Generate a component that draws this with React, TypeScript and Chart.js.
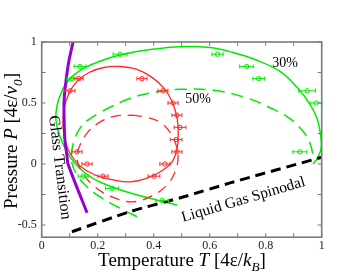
import React, { useEffect, useRef } from 'react';
import { Chart, registerables } from 'chart.js';
Chart.register(...registerables);

// ---- data ----
const fit30T = [0.483, 0.397, 0.305, 0.208, 0.155, 0.115, 0.087, 0.065, 0.051, 0.055, 0.069, 0.090, 0.137, 0.205, 0.287, 0.387, 0.494, 0.601, 0.683, 0.762, 0.851, 0.915, 0.958, 0.983, 0.996, 0.998, 0.987, 0.969];
const fit30P = [-0.336, -0.287, -0.230, -0.148, -0.074, 0.016, 0.114, 0.228, 0.359, 0.481, 0.579, 0.669, 0.767, 0.840, 0.897, 0.938, 0.962, 0.954, 0.914, 0.856, 0.759, 0.620, 0.489, 0.375, 0.237, 0.131, 0.057, 0.0];

const theo30T = [0.340, 0.2975, 0.244, 0.1975, 0.158, 0.126, 0.108, 0.108, 0.119, 0.137, 0.165, 0.1975, 0.244, 0.2975, 0.351, 0.4225, 0.494, 0.615, 0.737, 0.819, 0.880, 0.930, 0.958, 0.9725];
const theo30P = [-0.432, -0.383, -0.318, -0.253, -0.179, -0.090, 0.008, 0.114, 0.212, 0.294, 0.359, 0.408, 0.465, 0.522, 0.563, 0.595, 0.612, 0.604, 0.538, 0.457, 0.383, 0.277, 0.171, 0.033];

const fit50T = [0.076, 0.080, 0.0975, 0.126, 0.169, 0.2225, 0.280, 0.340, 0.394, 0.437, 0.465, 0.483, 0.4875, 0.484, 0.465, 0.4225, 0.369, 0.315, 0.255, 0.190, 0.137, 0.101, 0.083, 0.076];
const fit50P = [0.318, 0.457, 0.579, 0.677, 0.750, 0.791, 0.799, 0.775, 0.710, 0.620, 0.514, 0.383, 0.253, 0.130, 0.016, -0.065, -0.122, -0.147, -0.130, -0.090, -0.016, 0.090, 0.196, 0.318];

const theo50T = [0.3225, 0.376, 0.422, 0.458, 0.480, 0.487, 0.476, 0.448, 0.394, 0.3225, 0.251, 0.190, 0.144, 0.126, 0.137, 0.165, 0.208, 0.262, 0.3225];
const theo50P = [0.400, 0.383, 0.343, 0.261, 0.155, 0.049, -0.065, -0.171, -0.261, -0.310, -0.269, -0.188, -0.065, 0.049, 0.155, 0.261, 0.343, 0.392, 0.400];

const glassT = [0.115, 0.0975, 0.087, 0.080, 0.080, 0.083, 0.090, 0.094, 0.162];
const glassP = [1.03, 0.848, 0.685, 0.522, 0.359, 0.196, 0.073, 0.0, -0.400];

const spinT = [0.108, 0.316, 0.508, 0.673, 1.0];
const spinP = [-0.555, -0.39, -0.269, -0.155, 0.055];

const sim30T = [0.280, 0.628, 0.137, 0.732, 0.108, 0.775, 0.948, 0.980, 0.148, 0.251, 0.430, 0.922];
const sim30P = [0.9, 0.9, 0.8, 0.8, 0.7, 0.7, 0.6, 0.5, -0.1, -0.2, -0.3, 0.1];
const sim30Err = [0.025, 0.02, 0.021, 0.025, 0.018, 0.021, 0.03, 0.021, 0.018, 0.023, 0.023, 0.025];

const sim50T = [0.358, 0.433, 0.469, 0.483, 0.494, 0.480, 0.483, 0.440, 0.401, 0.219, 0.162, 0.126, 0.101, 0.133];
const sim50P = [0.7, 0.6, 0.5, 0.4, 0.3, 0.2, 0.1, 0.0, -0.1, -0.1, 0.0, 0.1, 0.6, 0.7];
const sim50Err = [0.018, 0.018, 0.018, 0.018, 0.021, 0.021, 0.018, 0.018, 0.021, 0.018, 0.018, 0.018, 0.018, 0.015];

const xTickValues = [0, 0.1, 0.2, 0.3, 0.4, 0.5, 0.6, 0.7, 0.8, 0.9, 1];
const xLabelValues = [0, 0.2, 0.4, 0.6, 0.8, 1];
const xTickLabels = ['0', '0.2', '0.4', '0.6', '0.8', '1'];
const yTickValues = [-0.5, -0.25, 0, 0.25, 0.5, 0.75, 1];
const yLabelValues = [-0.5, 0, 0.5, 1];
const yTickLabels = ['-0.5', '0', '0.5', '1'];

const GREEN = 'rgb(0,235,0)';
const RED = 'rgb(255,40,40)';
const PURPLE = 'rgb(148,0,211)';
const SERIF = '"Liberation Serif", "Times New Roman", serif';

const pts = (xs: number[], ys: number[]) => xs.map((x, i) => ({ x, y: ys[i] }));

type Run = { t: string; it?: boolean; sub?: boolean };

function richWidth(ctx: CanvasRenderingContext2D, runs: Run[], size: number) {
  let w = 0;
  for (const r of runs) {
    const s = r.sub ? size * 0.7 : size;
    ctx.font = `${r.it ? 'italic ' : ''}${s}px ${SERIF}`;
    w += ctx.measureText(r.t).width;
  }
  return w;
}

function drawRich(ctx: CanvasRenderingContext2D, runs: Run[], size: number, x: number, y: number) {
  const w = richWidth(ctx, runs, size);
  let cx = x - w / 2;
  ctx.textAlign = 'left';
  ctx.textBaseline = 'alphabetic';
  for (const r of runs) {
    const s = r.sub ? size * 0.7 : size;
    ctx.font = `${r.it ? 'italic ' : ''}${s}px ${SERIF}`;
    ctx.fillText(r.t, cx, y + (r.sub ? size * 0.25 : 0));
    cx += ctx.measureText(r.t).width;
  }
}

const decor = {
  id: 'decor',
  afterDatasetsDraw(chart: any) {
    const ctx: CanvasRenderingContext2D = chart.ctx;
    const xs = chart.scales.x;
    const ys = chart.scales.y;
    ctx.save();
    // error bars
    const bars = (T: number[], P: number[], E: number[], color: string) => {
      ctx.strokeStyle = color;
      ctx.lineWidth = 1;
      T.forEach((t, i) => {
        const x1 = xs.getPixelForValue(t - E[i]);
        const x2 = xs.getPixelForValue(t + E[i]);
        const y = ys.getPixelForValue(P[i]);
        ctx.beginPath();
        ctx.moveTo(x1, y); ctx.lineTo(x2, y);
        ctx.moveTo(x1, y - 2); ctx.lineTo(x1, y + 2);
        ctx.moveTo(x2, y - 2); ctx.lineTo(x2, y + 2);
        ctx.stroke();
      });
    };
    bars(sim30T, sim30P, sim30Err, GREEN);
    bars(sim50T, sim50P, sim50Err, RED);
    ctx.restore();
  },
  afterDraw(chart: any) {
    const ctx: CanvasRenderingContext2D = chart.ctx;
    const a = chart.chartArea;
    const xs = chart.scales.x;
    const ys = chart.scales.y;
    ctx.save();
    // frame
    ctx.strokeStyle = '#7a7a7a';
    ctx.lineWidth = 1.6;
    ctx.strokeRect(a.left, a.top, a.right - a.left, a.bottom - a.top);
    // ticks (inward)
    ctx.lineWidth = 1;
    ctx.beginPath();
    xTickValues.forEach(v => {
      const x = xs.getPixelForValue(v);
      ctx.moveTo(x, a.bottom); ctx.lineTo(x, a.bottom - 4);
      ctx.moveTo(x, a.top); ctx.lineTo(x, a.top + 4);
    });
    yTickValues.forEach(v => {
      const y = ys.getPixelForValue(v);
      ctx.moveTo(a.left, y); ctx.lineTo(a.left + 4, y);
      ctx.moveTo(a.right, y); ctx.lineTo(a.right - 4, y);
    });
    ctx.stroke();
    // tick labels
    ctx.fillStyle = '#222';
    ctx.font = `12px ${SERIF}`;
    ctx.textAlign = 'center';
    ctx.textBaseline = 'middle';
    xLabelValues.forEach((v, i) => {
      ctx.fillText(xTickLabels[i], xs.getPixelForValue(v), a.bottom + 9);
    });
    ctx.textAlign = 'right';
    yLabelValues.forEach((v, i) => {
      ctx.fillText(yTickLabels[i], a.left - 5, ys.getPixelForValue(v));
    });
    // axis titles
    ctx.fillStyle = '#000';
    drawRich(ctx, [
      { t: 'Temperature ' }, { t: 'T', it: true }, { t: ' [4ε/' }, { t: 'k', it: true }, { t: 'B', it: true, sub: true }, { t: ']' },
    ], 19, 182, 266);
    ctx.save();
    ctx.translate(17, 141);
    ctx.rotate(-Math.PI / 2);
    drawRich(ctx, [
      { t: 'Pressure ' }, { t: 'P', it: true }, { t: ' [4ε/' }, { t: 'v', it: true }, { t: '0', it: true, sub: true }, { t: ']' },
    ], 19, 0, 0);
    ctx.restore();
    // annotations
    ctx.font = `14px ${SERIF}`;
    ctx.textAlign = 'center';
    ctx.textBaseline = 'alphabetic';
    ctx.fillText('30%', 285, 67);
    ctx.fillText('50%', 198, 103);
    ctx.font = `16px ${SERIF}`;
    ctx.textAlign = 'left';
    ctx.save();
    ctx.translate(49, 116);
    ctx.rotate((83 * Math.PI) / 180);
    ctx.fillText('Glass Transition', 0, 0);
    ctx.restore();
    ctx.font = `15.5px ${SERIF}`;
    ctx.save();
    ctx.translate(183, 222);
    ctx.rotate((-16.5 * Math.PI) / 180);
    ctx.fillText('Liquid Gas Spinodal', 0, 0);
    ctx.restore();
    ctx.restore();
  },
};

export default function App() {
  const ref = useRef<HTMLCanvasElement>(null);
  useEffect(() => {
    const ctx = ref.current!.getContext('2d')!;
    const line = (data: any, color: string, width: number, dash: number[], order: number, tension = 0.4) => ({
      data, showLine: true, borderColor: color, borderWidth: width, borderDash: dash,
      pointRadius: 0, tension, fill: false, order,
    });
    const chart = new Chart(ctx, {
      type: 'scatter',
      data: {
        datasets: [
          line(pts(fit30T, fit30P), GREEN, 1.5, [], 8),
          line(pts(theo30T, theo30P), GREEN, 1.5, [12, 7], 7),
          line(pts(fit50T, fit50P), RED, 1.3, [], 6),
          line(pts(theo50T, theo50P), RED, 1.3, [10, 7], 5),
          line(pts(spinT, spinP), '#000', 3, [10, 6], 4, 0.2),
          line(pts(glassT, glassP), PURPLE, 3, [], 3, 0.3),
          {
            data: pts(sim30T, sim30P), showLine: false, pointRadius: 2.2, pointBorderWidth: 1,
            pointBorderColor: GREEN, pointBackgroundColor: 'rgba(0,0,0,0)', order: 2,
          },
          {
            data: pts(sim50T, sim50P), showLine: false, pointRadius: 2.2, pointBorderWidth: 1,
            pointBorderColor: RED, pointBackgroundColor: 'rgba(0,0,0,0)', order: 1,
          },
        ] as any,
      },
      options: {
        animation: false,
        responsive: false,
        maintainAspectRatio: false,
        events: [],
        layout: { padding: { left: 41.7, right: 40.3, top: 42, bottom: 42.8 } },
        plugins: { legend: { display: false }, tooltip: { enabled: false } },
        scales: {
          x: { type: 'linear', min: 0, max: 1, display: false },
          y: { type: 'linear', min: -0.6, max: 1, display: false },
        },
      },
      plugins: [decor],
    });
    return () => chart.destroy();
  }, []);
  return (
    <div style={{ position: 'absolute', left: 0, top: 0, width: 362, height: 280, background: '#fff' }}>
      <canvas ref={ref} width={362} height={280} style={{ width: 362, height: 280, display: 'block' }} />
    </div>
  );
}
